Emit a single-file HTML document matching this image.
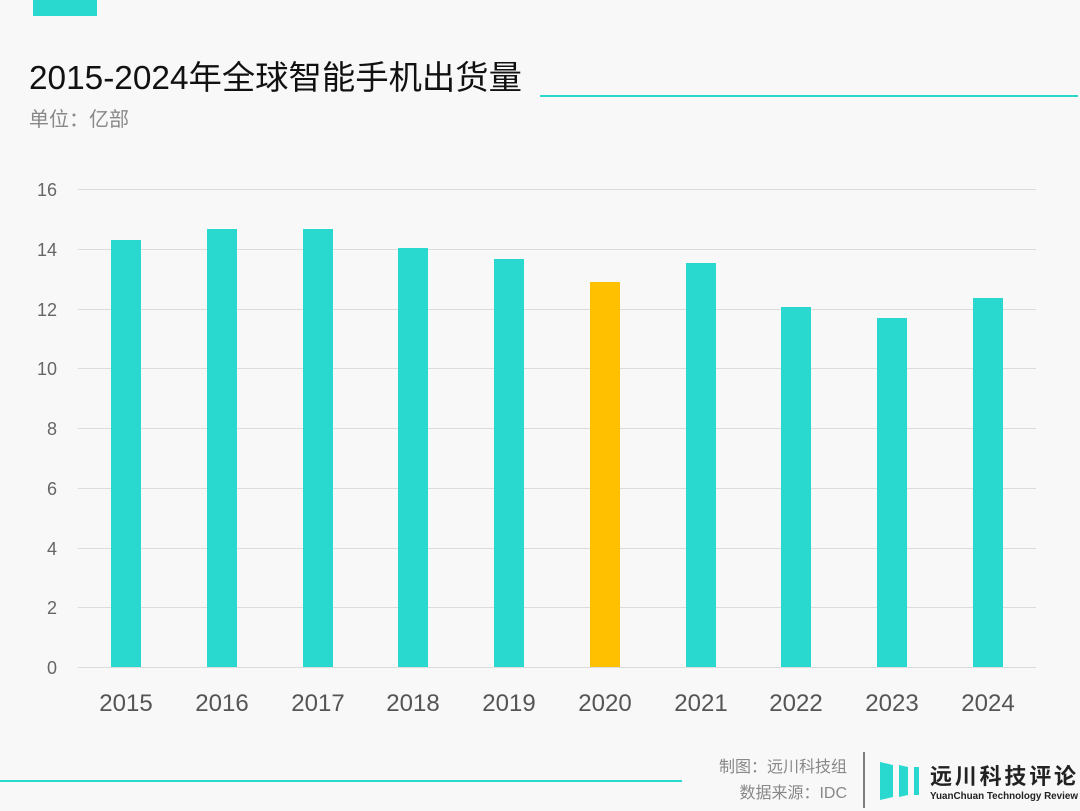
<!DOCTYPE html>
<html><head><meta charset="utf-8"><style>
body{margin:0;background:#f8f8f8}
svg{display:block}
text{font-family:"Liberation Sans","Noto Sans CJK SC",sans-serif}
</style></head><body>
<svg width="1080" height="811" viewBox="0 0 1080 811">
<rect width="1080" height="811" fill="#f8f8f8"/>
<rect x="33" y="0" width="64" height="16" fill="#29d9cf"/>
<text x="29" y="89" font-size="33" fill="#111" textLength="493" lengthAdjust="spacingAndGlyphs">2015-2024年全球智能手机出货量</text>
<line x1="540" y1="96" x2="1078" y2="96" stroke="#29d9cf" stroke-width="2"/>
<text x="29" y="126" font-size="20" fill="#888">单位：亿部</text>
<g stroke="#dcdcdc" stroke-width="1">
<line x1="78" y1="189.5" x2="1036" y2="189.5"/>
<line x1="78" y1="249.5" x2="1036" y2="249.5"/>
<line x1="78" y1="309.5" x2="1036" y2="309.5"/>
<line x1="78" y1="368.5" x2="1036" y2="368.5"/>
<line x1="78" y1="428.5" x2="1036" y2="428.5"/>
<line x1="78" y1="488.5" x2="1036" y2="488.5"/>
<line x1="78" y1="548.5" x2="1036" y2="548.5"/>
<line x1="78" y1="607.5" x2="1036" y2="607.5"/>
<line x1="78" y1="667.5" x2="1036" y2="667.5"/>
</g>
<g font-size="18" fill="#666" text-anchor="end">
<text x="57" y="196">16</text><text x="57" y="256">14</text><text x="57" y="316">12</text>
<text x="57" y="375">10</text><text x="57" y="435">8</text><text x="57" y="495">6</text>
<text x="57" y="555">4</text><text x="57" y="614">2</text><text x="57" y="674">0</text>
</g>
<g fill="#29d9cf">
<rect x="111" y="240" width="30" height="427"/>
<rect x="207" y="229" width="30" height="438"/>
<rect x="303" y="229" width="30" height="438"/>
<rect x="398" y="248" width="30" height="419"/>
<rect x="494" y="259" width="30" height="408"/>
<rect x="590" y="282" width="30" height="385" fill="#ffc000"/>
<rect x="686" y="263" width="30" height="404"/>
<rect x="781" y="307" width="30" height="360"/>
<rect x="877" y="318" width="30" height="349"/>
<rect x="973" y="298" width="30" height="369"/>
</g>
<g font-size="24" fill="#555" text-anchor="middle">
<text x="126" y="711">2015</text><text x="222" y="711">2016</text><text x="318" y="711">2017</text>
<text x="413" y="711">2018</text><text x="509" y="711">2019</text><text x="605" y="711">2020</text>
<text x="701" y="711">2021</text><text x="796" y="711">2022</text><text x="892" y="711">2023</text>
<text x="988" y="711">2024</text>
</g>
<line x1="0" y1="781" x2="682" y2="781" stroke="#29d9cf" stroke-width="2"/>
<g font-size="16" fill="#888" text-anchor="end">
<text x="847" y="772">制图：远川科技组</text>
<text x="847" y="798">数据来源：IDC</text>
</g>
<line x1="864" y1="752" x2="864" y2="808" stroke="#555" stroke-width="1.5"/>
<polygon points="880,762 893,765 893,797 880,800" fill="#29d9cf"/>
<polygon points="899,765 908,767 908,795 899,797" fill="#29d9cf"/>
<rect x="914" y="767" width="5" height="28" fill="#29d9cf"/>
<text x="930" y="784" font-size="22" font-weight="bold" fill="#222" textLength="146" lengthAdjust="spacing">远川科技评论</text>
<text x="930" y="799" font-size="10" font-weight="bold" fill="#222" textLength="148" lengthAdjust="spacingAndGlyphs">YuanChuan Technology Review</text>
</svg>
</body></html>
